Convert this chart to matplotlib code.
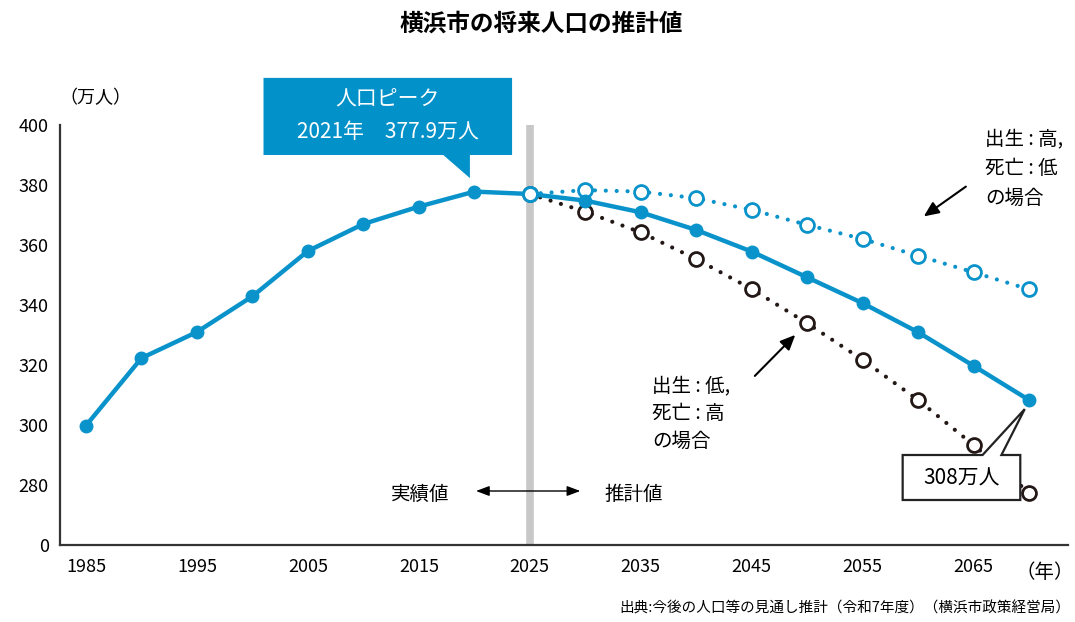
import matplotlib
matplotlib.use("Agg")
import matplotlib.pyplot as plt
from matplotlib.patches import Polygon

# フォント設定（日本語対応）
plt.rcParams['font.family'] = ['Noto Sans CJK JP', 'DejaVu Sans']

# データ（万人）
years_actual = [1985, 1990, 1995, 2000, 2005, 2010, 2015, 2020, 2025]
pop_actual = [299.8, 322.3, 331.0, 342.9, 358.0, 367.0, 372.8, 377.8, 377.0]

years_proj = [2025, 2030, 2035, 2040, 2045, 2050, 2055, 2060, 2065, 2070]
pop_mid = [377.0, 374.8, 370.9, 365.0, 357.8, 349.2, 340.6, 330.9, 319.7, 308.3]
pop_high = [377.0, 378.3, 377.8, 375.6, 371.7, 366.7, 362.0, 356.4, 350.9, 345.2]
pop_low = [377.0, 371.1, 364.2, 355.3, 345.3, 333.9, 321.7, 308.3, 293.3, 277.4]

x_ticks = [1985, 1995, 2005, 2015, 2025, 2035, 2045, 2055, 2065]
y_ticks = [260, 280, 300, 320, 340, 360, 380, 400]
y_labels = ["0", "280", "300", "320", "340", "360", "380", "400"]

BLUE = "#0a93cb"
DARK = "#231815"

fig = plt.figure(figsize=(10.75, 6.22), dpi=100)
ax = fig.add_axes([60 / 1075, 77 / 622, 1008 / 1075, 420 / 622])
ax.set_xlim(1982.66, 2073.5)
ax.set_ylim(260, 400)

# 実績と推計の境界
ax.axvline(2025, color="#c8c8c8", lw=5.5, zorder=1)

dot = (0, (0.01, 2.6))
ax.plot(years_proj, pop_low, color=DARK, lw=3, ls=dot, dash_capstyle="round",
        marker="o", ms=10, mfc="white", mec=DARK, mew=2, zorder=3)
ax.plot(years_proj, pop_high, color=BLUE, lw=3, ls=dot, dash_capstyle="round",
        marker="o", ms=10, mfc="white", mec=BLUE, mew=2, zorder=3)
ax.plot(years_actual + years_proj[1:], pop_actual + pop_mid[1:], color=BLUE, lw=3.2,
        marker="o", ms=9, zorder=4)
ax.plot(years_proj[:1], pop_mid[:1], marker="o", ms=10, mfc="white", mec=BLUE,
        mew=2, ls="none", zorder=5)

for s in ["top", "right"]:
    ax.spines[s].set_visible(False)
for s in ["left", "bottom"]:
    ax.spines[s].set_color("#333333")
    ax.spines[s].set_linewidth(1.6)
ax.set_xticks(x_ticks)
ax.set_yticks(y_ticks)
ax.set_yticklabels(y_labels)
ax.tick_params(length=0, labelsize=13, pad=8)
ax.tick_params(axis="x", pad=9)

# タイトル・単位
fig.text(0.503, 0.962, "横浜市の将来人口の推計値", ha="center", va="center",
         fontsize=17, fontweight="bold")
fig.text(95 / 1075, 1 - 98 / 622, "（万人）", ha="center", va="center", fontsize=13)
fig.text(1074 / 1075, 1 - 572 / 622, "（年）", ha="right", va="center", fontsize=14)
fig.text(1070 / 1075, 1 - 608 / 622, "出典:今後の人口等の見通し推計（令和7年度）（横浜市政策経営局）",
         ha="right", va="center", fontsize=10.5)

# 人口ピーク吹き出し
peak_box = Polygon([(2001.0, 415.7), (2023.4, 415.7), (2023.4, 390.0), (2019.6, 390.0),
                    (2019.6, 382.3), (2017.2, 390.0), (2001.0, 390.0)],
                   closed=True, fc="#0391c9", ec="none", clip_on=False, zorder=6)
ax.add_patch(peak_box)
ax.text(2012.2, 408.6, "人口ピーク", color="white", ha="center", va="center", fontsize=15, zorder=7,
        clip_on=False)
ax.text(2012.2, 397.6, "2021年　377.9万人", color="white", ha="center", va="center", fontsize=15,
        zorder=7, clip_on=False)

# 308万人吹き出し
end_box = Polygon([(2058.6, 290.0), (2065.8, 290.0), (2069.6, 305.3), (2067.5, 290.0),
                   (2069.2, 290.0), (2069.2, 275.0), (2058.6, 275.0)],
                  closed=True, fc="white", ec="#222222", lw=1.6, clip_on=False, zorder=6)
ax.add_patch(end_box)
ax.text(2063.9, 282.3, "308万人", ha="center", va="center", fontsize=15, zorder=7)

# シナリオ注記
ax.text(2066.0, 399.0, "出生 : 高,\n死亡 : 低\nの場合", ha="left", va="top", fontsize=14,
        linespacing=1.55)
ax.annotate("", xy=(2060.3, 369.0), xytext=(2064.5, 380.0),
            arrowprops=dict(arrowstyle="-|>,head_length=0.9,head_width=0.4", color="black", lw=1.5))
ax.text(2036.0, 316.5, "出生 : 低,\n死亡 : 高\nの場合", ha="left", va="top", fontsize=14,
        linespacing=1.42)
ax.annotate("", xy=(2049.1, 330.7), xytext=(2045.1, 315.7),
            arrowprops=dict(arrowstyle="-|>,head_length=0.9,head_width=0.4", color="black", lw=1.5))

# 実績値 ⇔ 推計値
ax.annotate("", xy=(2029.8, 278.0), xytext=(2019.9, 278.0),
            arrowprops=dict(arrowstyle="<|-|>,head_length=0.8,head_width=0.3", color="black", lw=1))
ax.text(2015.1, 276.7, "実績値", ha="center", va="center", fontsize=14)
ax.text(2034.4, 276.7, "推計値", ha="center", va="center", fontsize=14)

plt.savefig("out.png", dpi=100)
